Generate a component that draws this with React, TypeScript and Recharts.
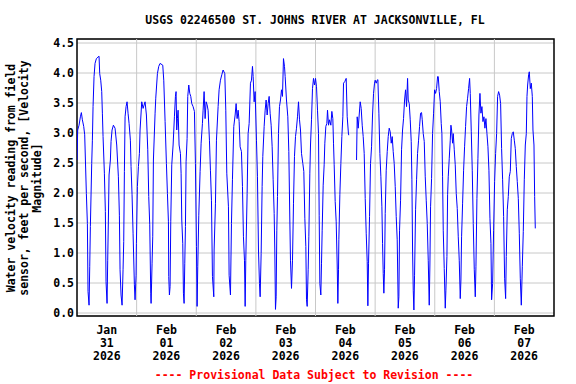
import React from 'react';
import { LineChart, Line, XAxis, YAxis, CartesianGrid, ReferenceLine, ReferenceArea } from 'recharts';

// [hours since 2026-01-31 00:00, velocity ft/s]
const readingsA: [number, number][] = [
  [0.0,2.55],[0.28,3.05],[0.82,3.13],[1.36,3.27],[1.76,3.34],[2.16,3.22],[2.70,3.11],[3.10,2.97],[3.77,1.99],[4.18,1.49],[4.44,0.36],[4.85,0.13],[5.12,0.77],[5.38,1.44],[5.92,2.49],[6.19,2.88],[6.46,3.44],[6.86,3.94],[7.26,4.16],[7.80,4.24],[8.87,4.28],[9.14,3.99],[9.55,3.88],[9.95,3.69],[10.22,3.33],[10.49,2.94],[11.02,2.33],[11.42,1.69],[11.69,0.52],[12.10,0.16],[12.36,0.88],[12.63,1.55],[12.90,2.30],[13.44,2.55],[13.71,2.86],[14.11,3.05],[14.65,3.13],[15.32,3.08],[15.99,2.80],[16.66,2.27],[17.06,1.63],[17.33,0.72],[17.73,0.30],[18.14,0.13],[18.54,0.72],[18.81,1.19],[19.08,2.36],[19.35,3.27],[19.75,3.44],[20.15,3.52],[20.55,3.33],[20.96,3.16],[21.49,2.88],[21.76,2.44],[22.16,1.97],[22.57,1.33],[23.10,0.47],[23.37,0.22],[23.78,0.63],[23.91,1.16],[24.31,2.11],[24.72,2.44],[25.12,2.66],[25.39,3.05],[26.06,3.52],[26.60,3.41],[27.40,3.52],[27.94,3.30],[28.48,2.72],[28.88,1.94],[29.28,1.47],[29.68,0.33],[29.82,0.16],[30.22,0.83],[30.49,1.27],[30.76,2.55],[31.43,3.33],[31.70,3.58],[32.37,3.99],[32.90,4.11],[33.44,4.16],[34.52,4.13],[34.92,3.88],[35.46,3.19],[35.99,2.49],[36.40,1.99],[36.80,1.52],[36.93,0.61],[37.20,0.30],[37.47,0.44],[37.74,1.52],[38.14,2.47],[38.68,2.80],[39.21,3.27],[39.62,3.61],[39.88,3.69],[40.15,3.05],[40.42,3.24],[40.69,3.38],[41.09,2.80],[41.63,2.66],[41.90,2.33],[42.17,1.55],[42.57,1.16],[42.84,0.33],[43.11,0.16],[43.38,0.83],[43.65,1.44],[43.91,2.52],[44.32,2.91],[44.58,3.61],[44.99,3.80],[45.39,3.66],[45.79,3.61],[46.20,3.49],[46.73,3.44],[47.27,3.36],[47.67,2.49],[48.08,1.11],[48.34,0.11],[48.61,0.77],[49.02,1.63],[49.55,2.36],[49.96,2.83],[50.49,3.16],[50.76,3.38],[51.16,3.69],[51.57,3.24],[51.97,3.52],[52.37,3.47],[52.77,3.38],[53.31,2.88],[53.71,2.38],[54.12,1.88],[54.52,0.61],[55.06,0.27],[55.19,1.05],[55.73,1.83],[56.13,2.88],[56.80,3.44],[57.20,3.72],[57.74,3.88],[58.28,3.97],[58.81,4.05],[59.49,3.99],[59.89,3.38],[60.29,2.33],[60.96,1.77],[61.23,0.63],[61.77,0.30],
];

const readingsB: [number, number][] = [
  [62.17,1.49],[62.57,2.22],[63.11,3.11],[63.65,3.30],[64.05,3.49],[64.45,3.24],[64.86,3.38],[65.26,3.19],[65.66,2.77],[66.20,2.69],[66.60,2.11],[67.00,1.27],[67.41,0.88],[67.68,0.11],[67.94,0.88],[68.48,1.99],[68.88,2.99],[69.29,3.16],[69.82,3.83],[70.23,3.88],[70.63,4.11],[70.90,3.94],[71.30,3.52],[71.70,3.69],[72.24,2.88],[72.64,2.27],[73.05,1.05],[73.45,0.49],[73.72,0.27],[74.12,0.99],[74.52,2.11],[74.79,2.61],[75.33,3.11],[75.73,3.38],[76.13,3.55],[76.54,3.30],[76.94,3.49],[77.34,3.61],[77.74,3.33],[78.15,3.13],[78.55,2.77],[78.95,2.22],[79.36,1.66],[79.62,1.05],[79.89,0.06],[80.16,0.27],[80.43,1.38],[80.70,1.94],[81.10,2.99],[81.50,3.44],[81.91,3.55],[82.31,3.72],[82.71,3.61],[83.11,4.24],[83.52,4.11],[83.79,3.94],[84.32,3.55],[84.86,3.27],[85.26,2.69],[85.67,1.55],[85.93,0.88],[86.34,0.41],[86.74,0.88],[87.14,1.83],[87.54,2.61],[87.95,2.94],[88.35,3.08],[88.75,3.27],[89.16,3.52],[89.56,3.22],[89.96,3.05],[90.36,2.66],[90.90,2.49],[91.30,2.36],[91.71,1.58],[92.11,1.11],[92.38,0.22],[92.65,0.11],[93.05,0.72],[93.32,1.27],[93.72,2.33],[93.99,2.80],[94.39,3.22],[94.79,3.74],[95.20,3.91],[95.60,3.80],[96.00,3.91],[96.41,3.77],[96.81,3.38],[97.21,2.99],[97.48,1.63],[97.75,0.49],[98.15,0.30],[98.42,0.83],[98.69,1.38],[99.09,2.13],[99.49,2.47],[99.76,2.83],[100.16,3.11],[100.57,3.16],[100.83,3.38],[101.24,3.13],[101.64,3.22],[102.18,3.13],[102.58,3.36],[102.98,3.24],[103.25,2.83],[103.52,2.47],[103.92,1.86],[104.33,1.52],[104.73,0.80],[105.00,0.16],[105.27,0.72],[105.40,1.22],[105.80,1.97],[106.21,2.49],[106.61,2.94],[107.01,3.27],[107.28,3.83],[107.82,3.86],[108.35,3.91],[108.76,3.27],[109.29,2.97],[109.56,2.97],
];

// data gap (missing record) between readingsB and readingsC
const gapHours = [111.0];

const readingsC: [number, number][] = [
  [112.52,2.55],[112.78,3.27],[113.19,3.08],[113.59,3.30],[113.99,3.52],[114.39,3.41],[114.80,3.13],[115.20,2.94],[115.60,2.66],[116.01,1.91],[116.41,1.33],[116.81,0.86],[117.08,0.12],[117.35,0.83],[117.75,1.61],[118.15,2.49],[118.56,2.77],[118.96,3.30],[119.36,3.66],[119.76,3.83],[120.03,3.88],[120.44,3.83],[120.84,3.88],[121.11,3.89],[121.51,3.33],[121.91,2.66],[122.32,2.27],[122.72,1.77],[122.99,1.16],[123.26,0.66],[123.52,0.33],[123.79,0.72],[124.06,1.66],[124.46,2.38],[124.87,2.69],[125.27,2.94],[125.67,3.08],[126.07,3.02],[126.48,2.83],[126.88,2.94],[127.28,2.69],[127.68,2.49],[128.09,2.11],[128.49,1.61],[128.89,1.22],[129.30,0.08],
  [129.56,0.27],[129.83,1.38],[130.24,1.88],[130.64,2.72],[131.04,3.05],[131.44,3.24],[131.85,3.55],[132.25,3.72],[132.65,3.44],[133.06,3.91],[133.32,3.55],[133.73,3.49],[134.13,3.22],[134.53,2.86],[134.80,2.22],[135.07,1.05],[135.34,0.38],[135.61,0.05],[135.87,0.63],[136.28,1.72],[136.68,2.22],[137.08,2.66],[137.49,2.88],[137.89,3.11],[138.29,3.33],[138.69,3.34],[138.96,3.22],[139.37,2.99],[139.77,2.86],[140.17,2.27],[140.57,1.88],[140.98,1.49],[141.38,0.88],[141.78,0.13],[142.05,0.80],[142.32,1.77],[142.72,2.24],[143.12,2.99],[143.53,3.33],[143.93,3.72],[144.33,3.66],[144.74,3.74],[145.14,3.94],[145.41,3.94],[145.81,3.69],[146.21,3.52],[146.61,3.16],[146.88,2.99],[147.15,2.27],[147.42,1.38],[147.82,0.74],[148.23,0.08],[148.49,0.38],[148.90,0.94],[149.17,1.97],[149.43,2.27],[149.84,2.58],[150.24,2.88],[150.51,3.13],[150.78,3.05],[151.18,2.83],[151.45,2.99],[151.85,2.72],[152.25,2.47],[152.66,1.99],[153.06,1.74],[153.46,1.27],[153.86,0.88],[154.27,0.24],[154.54,0.55],[154.80,1.27],[155.21,1.83],[155.61,2.38],[156.01,2.77],[156.41,3.11],[156.82,3.44],[157.22,3.58],[157.62,3.74],[158.03,3.91],[158.29,3.66],[158.70,3.02],[159.10,2.38],[159.50,1.49],[159.91,0.72],[160.31,0.27],[160.58,0.77],[160.98,1.91],[161.38,2.58],[161.78,3.30],[162.19,3.66],[162.59,3.33],[162.99,3.44],[163.40,3.19],[163.80,3.27],[164.20,3.08],[164.60,3.24],[165.01,2.99],[165.41,2.77],[165.81,2.38],[166.22,1.58],[166.62,1.16],[166.89,0.22],[167.29,0.49],[167.69,1.38],[168.10,2.19],[168.50,2.66],[168.90,2.99],[169.30,3.61],[169.71,3.69],[170.11,3.63],[170.51,3.49],[170.91,2.74],[171.32,2.22],[171.72,1.61],[172.12,0.58],[172.53,0.24],[172.79,0.94],[173.20,1.72],[173.60,1.94],[174.00,2.27],[174.41,2.36],[174.81,2.91],[175.21,2.99],[175.61,3.02],[176.02,2.88],[176.42,2.74],[176.82,2.44],[177.22,2.19],[177.63,1.91],[178.03,1.33],[178.43,0.58],[178.84,0.13],[179.24,0.77],[179.64,1.36],[180.04,2.22],[180.45,2.80],[180.85,2.99],[181.12,3.61],[181.39,3.80],[181.79,3.97],[182.06,4.02],[182.46,3.74],[182.86,3.83],[183.27,3.61],[183.53,3.05],[183.94,2.80],[184.21,1.94],[184.47,1.41],
];

const tickHours = [12, 36, 60, 84, 108, 132, 156, 180];
const tickMonths = ['Jan', 'Feb', 'Feb', 'Feb', 'Feb', 'Feb', 'Feb', 'Feb'];
const tickDays = ['31', '01', '02', '03', '04', '05', '06', '07'];
const tickYears = ['2026', '2026', '2026', '2026', '2026', '2026', '2026', '2026'];
const midnightHours = [24, 48, 72, 96, 120, 144, 168];
const yTicks = [0, 0.5, 1, 1.5, 2, 2.5, 3, 3.5, 4, 4.5];

const X_DOMAIN: [number, number] = [0, 192];
const Y_DOMAIN: [number, number] = [-0.05, 4.5667];

const data = [
  ...readingsA.map(([t, v]) => ({ t, v })),
  ...readingsB.map(([t, v]) => ({ t, v })),
  ...gapHours.map((t) => ({ t, v: null as number | null })),
  ...readingsC.map(([t, v]) => ({ t, v })),
];

const FONT = '"DejaVu Sans Mono", "Liberation Mono", monospace';
const FS = 11.5;

const XTick = (props: any) => {
  const { x, y, payload } = props;
  const i = tickHours.indexOf(payload.value);
  if (i < 0) return null;
  const common = {
    x,
    textAnchor: 'middle' as const,
    fontFamily: FONT,
    fontSize: FS,
    fontWeight: 'bold' as const,
    fill: '#000',
  };
  return (
    <g>
      <text {...common} y={y + 18}>{tickMonths[i]}</text>
      <text {...common} y={y + 31}>{tickDays[i]}</text>
      <text {...common} y={y + 44}>{tickYears[i]}</text>
    </g>
  );
};

export default function App() {
  return (
    <div style={{ position: 'absolute', left: 0, top: 0, width: 576, height: 384, background: '#fff' }}>
      <LineChart
        width={576}
        height={384}
        data={data}
        margin={{ top: 39, right: 22, bottom: 0, left: 0 }}
      >
        <CartesianGrid vertical={false} stroke="#c8c8c8" strokeWidth={1} />
        {midnightHours.map((h) => (
          <ReferenceLine key={h} x={h} stroke="#c8c8c8" strokeWidth={1} />
        ))}
        <XAxis
          dataKey="t"
          type="number"
          domain={X_DOMAIN}
          ticks={tickHours}
          interval={0}
          allowDataOverflow
          tickLine={false}
          axisLine={false}
          tickSize={0}
          tickMargin={0}
          tick={<XTick />}
          height={68}
        />
        <YAxis
          type="number"
          domain={Y_DOMAIN}
          ticks={yTicks}
          interval={0}
          allowDataOverflow
          tickLine={false}
          axisLine={false}
          tickSize={0}
          tickMargin={3}
          width={77}
          tickFormatter={(v: number) => v.toFixed(1)}
          tick={{ fontFamily: FONT, fontSize: FS, fontWeight: 'bold', fill: '#000' }}
        />
        <Line
          type="linear"
          dataKey="v"
          stroke="#0000ff"
          strokeWidth={1}
          dot={false}
          activeDot={false}
          connectNulls={false}
          isAnimationActive={false}
        />
        <ReferenceArea
          x1={X_DOMAIN[0]}
          x2={X_DOMAIN[1]}
          y1={Y_DOMAIN[0]}
          y2={Y_DOMAIN[1]}
          fill="none"
          fillOpacity={0}
          stroke="#000"
          strokeWidth={1.5}
          ifOverflow="visible"
        />
      </LineChart>
      <svg
        width={576}
        height={384}
        style={{ position: 'absolute', left: 0, top: 0, pointerEvents: 'none' }}
      >
        <text x={315} y={24} textAnchor="middle" fontFamily={FONT} fontSize={FS} fontWeight="bold" fill="#000">
          USGS 02246500 ST. JOHNS RIVER AT JACKSONVILLE, FL
        </text>
        <text x={314} y={379} textAnchor="middle" fontFamily={FONT} fontSize={FS} fontWeight="bold" fill="#ff0000">
          ---- Provisional Data Subject to Revision ----
        </text>
        <g fontFamily={FONT} fontSize={FS} fontWeight="bold" fill="#000" textAnchor="middle">
          <text transform="translate(15,178) rotate(-90)">Water velocity reading from field</text>
          <text transform="translate(28,178) rotate(-90)">sensor, feet per second, [Velocity</text>
          <text transform="translate(41,178) rotate(-90)">Magnitude]</text>
        </g>
      </svg>
    </div>
  );
}
